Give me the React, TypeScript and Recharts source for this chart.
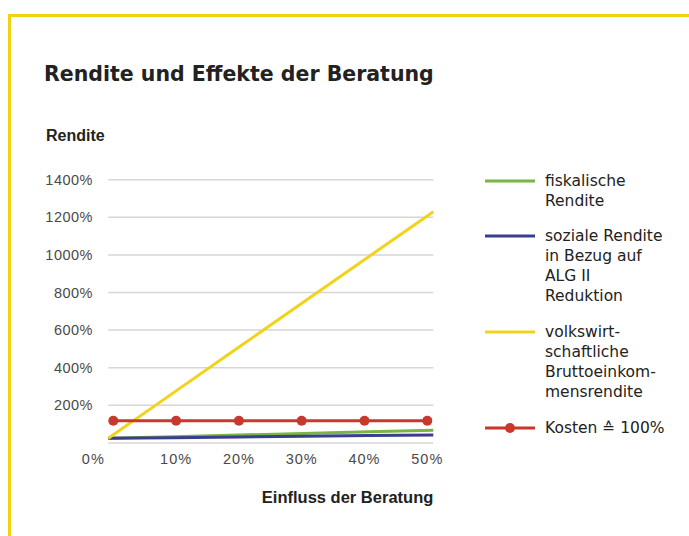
import React from 'react';
import { LineChart, Line, XAxis, YAxis, CartesianGrid, Legend } from 'recharts';

const einfluss = [0, 10, 20, 30, 40, 50];
const fiskalisch = [25, 33, 42, 50, 59, 67];
const sozial = [25, 28, 32, 35, 39, 42];
const volkswirt = [25, 266, 507, 748, 989, 1230];
const kosten = [118, 118, 118, 118, 118, 118];

const yTicks = [200, 400, 600, 800, 1000, 1200, 1400];
const xTicks = [0, 10, 20, 30, 40, 50];

const seriesKeys = ['fiskalisch', 'sozial', 'volkswirt', 'kosten'];
const seriesNames = [
  'fiskalische\nRendite',
  'soziale Rendite\nin Bezug auf\nALG II\nReduktion',
  'volkswirt-\nschaftliche\nBruttoeinkom-\nmensrendite',
  'Kosten \u2259 100%',
];
const seriesColors = ['#78b543', '#3b3d8f', '#f0d31a', '#c9392b'];

const title = 'Rendite und Effekte der Beratung';
const yLabel = 'Rendite';
const xLabel = 'Einfluss der Beratung';

const data = einfluss.map((x, i) => ({
  x,
  fiskalisch: fiskalisch[i],
  sozial: sozial[i],
  volkswirt: volkswirt[i],
  kosten: kosten[i],
}));

const FONT = "'Liberation Sans', 'DejaVu Sans', Arial, sans-serif";
const WIDE = "'DejaVu Sans', 'Liberation Sans', sans-serif";

const XTick = (props: any) => {
  const { x, y, payload } = props;
  return (
    <text
      x={x + (payload.value === 0 ? -20 : 0)}
      y={y}
      dy="0.71em"
      textAnchor="middle"
      fill="#4a4a4a"
      fontSize={14.5}
      letterSpacing={1}
      fontFamily={FONT}
    >
      {payload.value}%
    </text>
  );
};

const LegendContent = (props: any) => {
  const items = [...(props.payload || [])].sort(
    (a: any, b: any) => seriesKeys.indexOf(a.dataKey) - seriesKeys.indexOf(b.dataKey)
  );
  const gaps = [15, 16, 16, 0];
  return (
    <div style={{ fontFamily: WIDE, fontSize: 15.5, color: '#222', lineHeight: '20px' }}>
      {items.map((entry: any, i: number) => (
        <div key={i} style={{ display: 'flex', alignItems: 'flex-start', marginBottom: gaps[i] }}>
          <svg width={50} height={20} style={{ flex: 'none' }}>
            <line x1={0} y1={10} x2={50} y2={10} stroke={entry.color} strokeWidth={3} />
            {entry.dataKey === 'kosten' && <circle cx={25} cy={10} r={5} fill={entry.color} />}
          </svg>
          <div style={{ marginLeft: 10, whiteSpace: 'pre-line' }}>{entry.value}</div>
        </div>
      ))}
    </div>
  );
};

export default function App() {
  return (
    <div style={{ position: 'absolute', left: 0, top: 0, width: 689, height: 536, overflow: 'hidden', background: '#fff' }}>
      <div
        style={{
          position: 'absolute',
          left: 8,
          top: 14,
          width: 700,
          height: 560,
          borderTop: '3px solid #f0d30f',
          borderLeft: '3px solid #f0d30f',
        }}
      />
      <div
        style={{
          position: 'absolute',
          left: 44,
          top: 63.7,
          fontFamily: WIDE,
          fontWeight: 700,
          fontSize: 20.5,
          lineHeight: '20.5px',
          color: '#222',
          whiteSpace: 'nowrap',
        }}
      >
        {title}
      </div>
      <div style={{ position: 'absolute', left: 0, top: 0 }}>
        <LineChart
          width={689}
          height={536}
          data={data}
          margin={{ top: 179.7, right: 255.7, bottom: 32.6, left: 42.3 }}
        >
          <CartesianGrid vertical={false} stroke="#d6d6d6" strokeWidth={1.5} />
          <XAxis
            dataKey="x"
            type="number"
            domain={[0, 50]}
            ticks={xTicks}
            padding={{ left: 5, right: 6 }}
            axisLine={false}
            tickLine={false}
            tickMargin={4.8}
            height={60.5}
            tick={<XTick />}
            interval={0}
            label={{
              value: xLabel,
              position: 'insideBottomRight',
              offset: 0,
              style: { fontFamily: FONT, fontWeight: 700, fontSize: 16.5, fill: '#222' },
            }}
          />
          <XAxis xAxisId="full" dataKey="x" type="number" domain={[0, 50]} hide />
          <YAxis
            type="number"
            domain={[0, 1400]}
            ticks={yTicks}
            width={66}
            axisLine={false}
            tickLine={false}
            tickMargin={9.3}
            interval={0}
            tickFormatter={(v: number) => `${v}%`}
            tick={{ fill: '#4a4a4a', fontSize: 14.5, fontFamily: FONT, letterSpacing: 0.5 }}
            label={{
              value: yLabel,
              position: 'top',
              offset: 39,
              style: { fontFamily: FONT, fontWeight: 700, fontSize: 16, fill: '#222' },
            }}
          />
          {seriesKeys.map((k, i) => (
            <Line
              key={k}
              dataKey={k}
              name={seriesNames[i]}
              xAxisId={k === 'kosten' ? 0 : 'full'}
              stroke={seriesColors[i]}
              strokeWidth={3}
              type="linear"
              dot={k === 'kosten' ? { r: 5, fill: seriesColors[i], stroke: seriesColors[i], strokeWidth: 0 } : false}
              activeDot={false}
              isAnimationActive={false}
            />
          ))}
          <Legend
            layout="vertical"
            align="center"
            verticalAlign="middle"
            content={<LegendContent />}
            wrapperStyle={{ left: 485, top: 170.7, width: 200, right: 'auto', bottom: 'auto' }}
          />
        </LineChart>
      </div>
    </div>
  );
}
